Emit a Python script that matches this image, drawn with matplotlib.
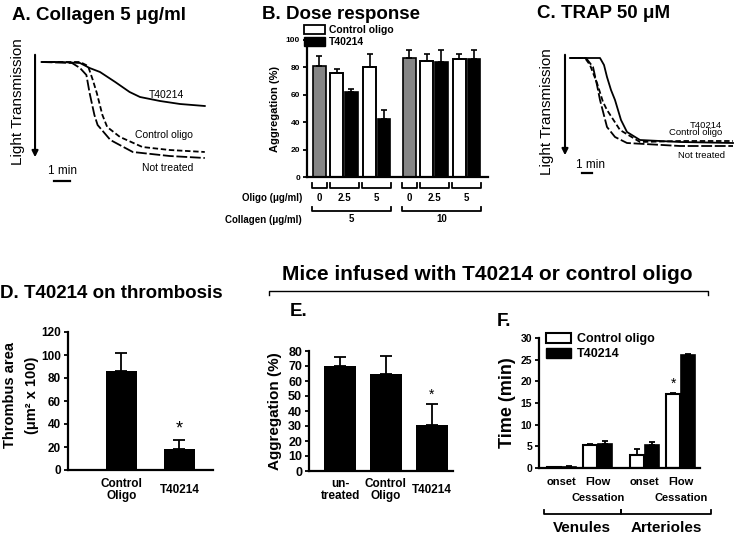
import numpy as np
import matplotlib as mpl
mpl.use('Agg')
import matplotlib.pyplot as pl
from matplotlib.lines import Line2D
from matplotlib.patches import Patch
import matplotlib.transforms as mtrans

pl.rcParams['font.family'] = ['Liberation Sans', 'DejaVu Sans']

W, H = 736, 536

# ---------------- data ----------------
# A: collagen 5 ug/ml aggregation traces (time min, signal arb. units, down = more transmission)
a_t402_t = [0.1, 1.25, 2.5, 3.1, 3.75, 4.7, 5.6, 6.25, 7.5, 8.75, 10.3]
a_t402_v = [7, 7, 8, 13, 17, 27, 37, 42, 46, 49, 51]
a_ctrl_t = [0.1, 2.5, 3.0, 3.3, 3.55, 3.9, 4.2, 5.0, 6.4, 8.1, 10.3]
a_ctrl_v = [7, 7, 11, 25, 38, 60, 72, 82, 92, 95, 97]
a_nt_t = [0.1, 2.0, 2.5, 2.9, 3.1, 3.4, 3.6, 4.4, 5.8, 8.1, 10.3]
a_nt_v = [7, 8, 13, 20, 38, 60, 70, 85, 97, 101, 103]

# C: TRAP 50 uM traces
c_t402_t = [0.4, 3.4, 3.8, 4.1, 4.5, 4.9, 5.5, 6.1, 7.4, 11.4, 16.7]
c_t402_v = [6, 6, 13, 25, 38, 48, 68, 80, 88, 90, 91]
c_ctrl_t = [0.4, 1.9, 2.4, 3.1, 3.7, 4.1, 5.4, 7.4, 11.4, 16.7]
c_ctrl_v = [6, 6, 13, 31, 50, 58, 78, 90, 89, 89]
c_nt_t = [0.4, 2.0, 2.7, 3.1, 3.4, 4.1, 4.9, 6.1, 11.4, 16.7]
c_nt_v = [6, 6, 15, 33, 48, 75, 85, 91, 94, 94]

# B: dose response
b_collagen = ['5', '10']
b_oligo = ['0', '2.5', '5']
b_untreated = [81, 87]
b_untreated_err = [7, 6]
b_ctrl = [76, 80, 85, 86]
b_ctrl_err = [3, 10, 5, 4]
b_t402 = [62, 42, 84, 86]
b_t402_err = [2, 7, 9, 7]

# D: thrombus area
d_labels = ['Control\nOligo', 'T40214']
d_vals = [86, 18]
d_err = [16, 8]

# E: ex vivo aggregation in infused mice
e_labels = ['un-\ntreated', 'Control\nOligo', 'T40214']
e_vals = [70, 65, 31]
e_err = [6, 12, 14]

# F: time to onset / flow cessation
f_labels = ['onset', 'Flow\nCessation', 'onset', 'Flow\nCessation']
f_ctrl = [0.2, 5.2, 3.0, 17.0]
f_ctrl_err = [0.05, 0.4, 1.5, 0.3]
f_t402 = [0.3, 5.5, 5.2, 26.0]
f_t402_err = [0.05, 0.8, 0.7, 0.3]
f_vessels = ['Venules', 'Arterioles']


def box(l, t, r, b):
    return [l / W, 1 - b / H, (r - l) / W, (b - t) / H]

def fx(x):
    return x / W

def fy(y):
    return 1 - y / H

f = pl.figure(figsize=(W / 100., H / 100.), dpi=100)

def ftext(x, y, s, **kw):
    kw.setdefault('fontweight', 'bold')
    f.text(fx(x), fy(y), s, **kw)

def fline(xs, ys, lw=1.3):
    f.add_artist(Line2D([fx(x) for x in xs], [fy(y) for y in ys], color='k', lw=lw))

def style_bar_ax(ax, fs):
    for s in ['top', 'right']:
        ax.spines[s].set_visible(False)
    for s in ['left', 'bottom']:
        ax.spines[s].set_linewidth(1.6)
    ax.tick_params(axis='y', direction='out', length=3, width=1.3, labelsize=fs, pad=2)
    ax.tick_params(axis='x', length=0)
    for lab in ax.get_yticklabels():
        lab.set_fontweight('bold')

# ---------------- A ----------------
ftext(12, 7, 'A. Collagen 5 \u03bcg/ml', fontsize=13.5, va='top')
ax = f.add_axes(box(40, 55, 210, 185))
ax.axis('off')
ax.set_xlim(0, 170 / 16.)
ax.set_ylim(130, 0)
ax.plot(a_t402_t, a_t402_v, 'k-', lw=1.3)
ax.plot(a_ctrl_t, a_ctrl_v, 'k--', lw=1.3, dashes=(3, 1.5))
ax.plot(a_nt_t, a_nt_v, 'k--', lw=1.3, dashes=(6, 1.5))
ax.text(7.9, 40, 'T40214', fontsize=7.5, ha='center', va='center')
ax.text(7.75, 80, 'Control oligo', fontsize=7.5, ha='center', va='center')
ax.text(8.0, 113, 'Not treated', fontsize=7.5, ha='center', va='center')
ax.annotate('', xy=(-0.31, 105), xytext=(-0.31, -3), annotation_clip=False,
            arrowprops=dict(arrowstyle='-|>', lw=1.5, color='k', mutation_scale=9))
ax.plot([0.875, 1.875], [126, 126], 'k-', lw=1.6, clip_on=False)
ax.text(1.375, 116, '1 min', fontsize=8.5, ha='center', va='center')
ftext(18, 102, 'Light Transmission', fontsize=11, fontweight='normal', rotation=90,
      ha='center', va='center')

# ---------------- C ----------------
ftext(537, 5, 'C. TRAP 50 \u03bcM', fontsize=13.5, va='top')
ax = f.add_axes(box(566, 52, 736, 182))
ax.axis('off')
ax.set_xlim(0, 17)
ax.set_ylim(130, 0)
ax.plot(c_t402_t, c_t402_v, 'k-', lw=1.3)
ax.plot(c_ctrl_t, c_ctrl_v, 'k--', lw=1.3, dashes=(3, 1.5))
ax.plot(c_nt_t, c_nt_v, 'k--', lw=1.3, dashes=(6, 1.5))
ax.text(15.6, 73, 'T40214', fontsize=6.8, ha='right', va='center')
ax.text(15.6, 80.5, 'Control oligo', fontsize=6.8, ha='right', va='center')
ax.text(15.9, 103, 'Not treated', fontsize=6.8, ha='right', va='center')
ax.annotate('', xy=(-0.1, 106), xytext=(-0.1, 0), annotation_clip=False,
            arrowprops=dict(arrowstyle='-|>', lw=1.5, color='k', mutation_scale=9))
ax.plot([1.6, 2.6], [121, 121], 'k-', lw=1.6, clip_on=False)
ax.text(2.5, 113, '1 min', fontsize=8.5, ha='center', va='center')
ftext(547, 112, 'Light Transmission', fontsize=11, fontweight='normal', rotation=90,
      ha='center', va='center')

# ---------------- B ----------------
ftext(262, 6, 'B. Dose response', fontsize=13.5, va='top')
ax = f.add_axes(box(307, 40, 488, 177))
set_off = [0, 6.2]
inner = [0, 1.2, 2.2, 3.45, 4.45]
bw = 0.88
xg, xw, xb = [], [], []
for s in set_off:
    xg.append(s + inner[0])
    xw += [s + inner[1], s + inner[3]]
    xb += [s + inner[2], s + inner[4]]
ax.bar(xg, b_untreated, bw, color='#858585', edgecolor='k', lw=1.2)
ax.bar(xw, b_ctrl, bw, color='white', edgecolor='k', lw=1.4)
ax.bar(xb, b_t402, bw, color='k', edgecolor='k', lw=1.2)
for xs, v, e in [(xg, b_untreated, b_untreated_err), (xw, b_ctrl, b_ctrl_err), (xb, b_t402, b_t402_err)]:
    ax.errorbar(xs, v, yerr=[np.zeros(len(e)), e], fmt='none', ecolor='k',
                elinewidth=1.2, capsize=2.5, capthick=1.2)
ax.set_xlim(-0.86, 11.62)
ax.set_ylim(0, 100)
ax.set_yticks(np.arange(0, 101, 20))
ax.set_xticks([])
style_bar_ax(ax, 6)
ax.set_ylabel('Aggregation (%)', fontsize=8, fontweight='bold', labelpad=4)
tr = mtrans.blended_transform_factory(ax.transData, ax.transAxes)

def bracket(ax, tr, x0, x1, ylo, yhi, lw=1.3):
    ax.plot([x0, x0, x1, x1], [yhi, ylo, ylo, yhi], 'k-', lw=lw, transform=tr, clip_on=False)

for s, col in zip(set_off, b_collagen):
    spans = [(s + inner[0] - 0.5, s + inner[0] + 0.5),
             (s + inner[1] - 0.5, s + inner[2] + 0.5),
             (s + inner[3] - 0.5, s + inner[4] + 0.5)]
    for (x0, x1), lab in zip(spans, b_oligo):
        bracket(ax, tr, x0, x1, -0.08, -0.044)
        ax.text((x0 + x1) / 2., -0.153, lab, transform=tr, fontsize=7, fontweight='bold',
                ha='center', va='center')
    bracket(ax, tr, s + inner[0] - 0.5, s + inner[4] + 0.5, -0.25, -0.22)
    ax.text(s + 2.2, -0.31, col, transform=tr, fontsize=7, fontweight='bold',
            ha='center', va='center')
ftext(302, 198, 'Oligo (\u03bcg/ml)', fontsize=7, ha='right', va='center')
ftext(302, 220, 'Collagen (\u03bcg/ml)', fontsize=7, ha='right', va='center')
ax.legend([Patch(facecolor='white', edgecolor='k', lw=1.3), Patch(facecolor='k', edgecolor='k')],
          ['Control oligo', 'T40214'], loc='upper left', bbox_to_anchor=(fx(304), fy(25)),
          bbox_transform=f.transFigure, frameon=False, prop={'size': 7.5, 'weight': 'bold'},
          handlelength=2.0, handleheight=0.9, labelspacing=0.2, handletextpad=0.4,
          borderpad=0, borderaxespad=0)

# ---------------- D ----------------
ftext(0, 285, 'D. T40214 on thrombosis', fontsize=13.5, va='top')
ax = f.add_axes(box(68, 332, 213, 470))
xd = np.arange(len(d_vals))
ax.bar(xd, d_vals, 0.53, color='k')
ax.errorbar(xd, d_vals, yerr=[np.zeros(len(d_err)), d_err], fmt='none', ecolor='k',
            elinewidth=1.3, capsize=4, capthick=1.3)
ax.text(xd[1], d_vals[1] + d_err[1] + 2, '*', fontsize=13, ha='center', va='bottom')
ax.set_xlim(-0.92, 1.58)
ax.set_ylim(0, 120)
ax.set_yticks(np.arange(0, 121, 20))
ax.set_xticks([])
style_bar_ax(ax, 8.5)
for xi, lab in zip(xd, d_labels):
    ax.text(xi, -0.145, lab, transform=mtrans.blended_transform_factory(ax.transData, ax.transAxes),
            fontsize=8.5, fontweight='bold', ha='center', va='center', linespacing=1.1)
ftext(10, 395, 'Thrombus area', fontsize=10.5, rotation=90, ha='center', va='center')
ftext(32, 395, '(\u03bcm\u00b2 x 100)', fontsize=10.5, rotation=90, ha='center', va='center')

# ---------------- middle heading ----------------
ftext(487, 275, 'Mice infused with T40214 or control oligo', fontsize=15, ha='center', va='center')
fline([269, 269, 708, 708], [295, 291, 291, 295], lw=1.0)

# ---------------- E ----------------
ftext(290, 303, 'E.', fontsize=13.5, va='top')
ax = f.add_axes(box(309, 351, 453, 471))
xe = np.arange(len(e_vals))
ax.bar(xe, e_vals, 0.7, color='k')
ax.errorbar(xe, e_vals, yerr=[np.zeros(len(e_err)), e_err], fmt='none', ecolor='k',
            elinewidth=1.3, capsize=4, capthick=1.3)
ax.text(xe[2], e_vals[2] + e_err[2] + 1, '*', fontsize=10, ha='center', va='bottom')
ax.set_xlim(-0.68, 2.47)
ax.set_ylim(0, 80)
ax.set_yticks(np.arange(0, 81, 10))
ax.set_xticks([])
style_bar_ax(ax, 9)
for xi, lab in zip(xe, e_labels):
    ax.text(xi, -0.158, lab, transform=mtrans.blended_transform_factory(ax.transData, ax.transAxes),
            fontsize=8.5, fontweight='bold', ha='center', va='center', linespacing=1.1)
ftext(275, 411, 'Aggregation (%)', fontsize=11, rotation=90, ha='center', va='center')

# ---------------- F ----------------
ftext(497, 313, 'F.', fontsize=13.5, va='top')
ax = f.add_axes(box(539, 338, 700, 468))
gpos = np.array([0, 2.4, 5.5, 7.9])
ax.bar(gpos - 0.5, f_ctrl, 0.92, color='white', edgecolor='k', lw=1.5)
ax.bar(gpos + 0.5, f_t402, 0.92, color='k', edgecolor='k', lw=1.2)
ax.errorbar(gpos - 0.5, f_ctrl, yerr=[np.zeros(4), f_ctrl_err], fmt='none', ecolor='k',
            elinewidth=1.3, capsize=2.5, capthick=1.3)
ax.errorbar(gpos + 0.5, f_t402, yerr=[np.zeros(4), f_t402_err], fmt='none', ecolor='k',
            elinewidth=1.3, capsize=2.5, capthick=1.3)
ax.text(gpos[3] - 0.5, f_ctrl[3] + f_ctrl_err[3] + 0.6, '*', fontsize=10, ha='center', va='bottom')
ax.set_xlim(-1.5, 9.17)
ax.set_ylim(0, 30)
ax.set_yticks(np.arange(0, 31, 5))
ax.set_xticks([])
style_bar_ax(ax, 7.5)
ax.set_ylabel('Time (min)', fontsize=13, fontweight='bold', labelpad=3)
tr = mtrans.blended_transform_factory(ax.transData, ax.transAxes)
for xi, lab in zip(gpos, f_labels):
    for k, line in enumerate(lab.split('\n')):
        ax.text(xi, -0.11 - 0.118 * k, line, transform=tr, fontsize=8, fontweight='bold',
                ha='center', va='center')
mid = (gpos[1] + gpos[2]) / 2.
for (x0, x1), lab in zip([(gpos[0] - 1.2, mid), (mid, gpos[3] + 2.0)], f_vessels):
    bracket(ax, tr, x0, x1, -0.355, -0.32)
    ax.text((x0 + x1) / 2., -0.46, lab, transform=tr, fontsize=11, fontweight='bold',
            ha='center', va='center')
ax.legend([Patch(facecolor='white', edgecolor='k', lw=1.5), Patch(facecolor='k', edgecolor='k')],
          ['Control oligo', 'T40214'], loc='upper left', bbox_to_anchor=(fx(546), fy(333)),
          bbox_transform=f.transFigure, frameon=False, prop={'size': 9, 'weight': 'bold'},
          handlelength=2.0, handleheight=0.8, labelspacing=0.25, handletextpad=0.5,
          borderpad=0, borderaxespad=0)

f.savefig('out.png', dpi=100)
